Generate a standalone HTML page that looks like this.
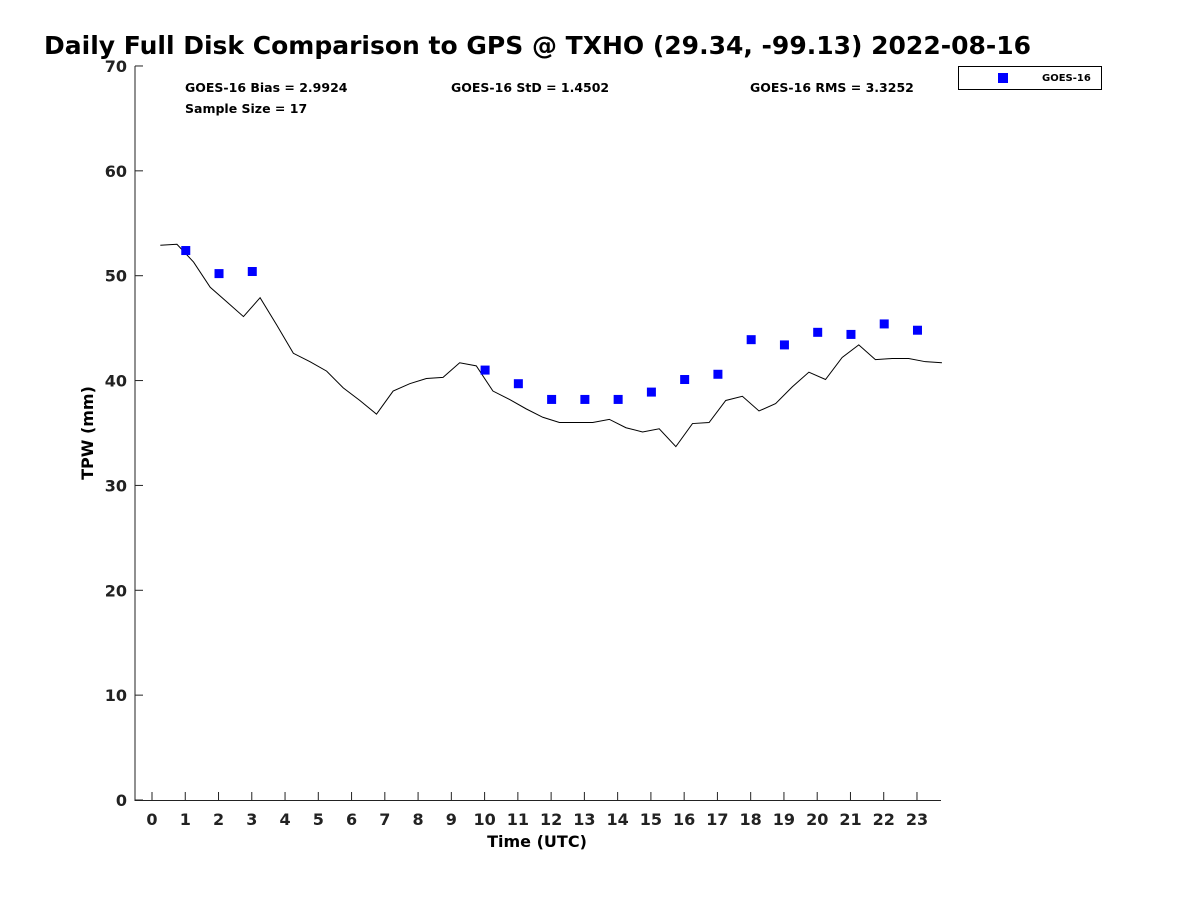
<!DOCTYPE html>
<html><head><meta charset="utf-8"><style>
body{margin:0;background:#fff;}
svg{display:block;font-family:"DejaVu Sans","Liberation Sans",sans-serif;}
</style></head><body>
<svg id="c" width="1200" height="900" xmlns="http://www.w3.org/2000/svg">
<rect width="1200" height="900" fill="#fff"/>
<text x="44" y="54" font-size="25" font-weight="bold" fill="#000">Daily Full Disk Comparison to GPS @ TXHO (29.34, -99.13) 2022-08-16</text>
<g id="axes"></g>
<g id="marks"></g>
<text x="185" y="92" font-size="12.5" font-weight="bold">GOES-16 Bias = 2.9924</text>
<text x="451" y="92" font-size="12.5" font-weight="bold">GOES-16 StD = 1.4502</text>
<text x="750" y="92" font-size="12.5" font-weight="bold">GOES-16 RMS = 3.3252</text>
<text x="185" y="113" font-size="12.5" font-weight="bold">Sample Size = 17</text>
<g>
<rect x="958.5" y="66.5" width="143" height="23" fill="#fff" stroke="#000" stroke-width="1"/>
<rect x="998" y="73" width="10" height="10" fill="#0000ff"/>
<text x="1042" y="81" font-size="10" font-weight="bold">GOES-16</text>
</g>
<text x="537" y="847" font-size="16" font-weight="bold" text-anchor="middle">Time (UTC)</text>
<text transform="translate(93,433) rotate(-90)" font-size="16" font-weight="bold" text-anchor="middle">TPW (mm)</text>
</svg>
<script>
const lineTimes=[0.25,0.75,1.25,1.75,2.25,2.75,3.25,3.75,4.25,4.75,5.25,5.75,6.25,6.75,7.25,7.75,8.25,8.75,9.25,9.75,10.25,10.75,11.25,11.75,12.25,12.75,13.25,13.75,14.25,14.75,15.25,15.75,16.25,16.75,17.25,17.75,18.25,18.75,19.25,19.75,20.25,20.75,21.25,21.75,22.25,22.75,23.25,23.75];
const gpsValues=[52.9,53.0,51.3,48.9,47.5,46.1,47.9,45.3,42.6,41.8,40.9,39.3,38.1,36.8,39.0,39.7,40.2,40.3,41.7,41.4,39.0,38.2,37.3,36.5,36.0,36.0,36.0,36.3,35.5,35.1,35.4,33.7,35.9,36.0,38.1,38.5,37.1,37.8,39.4,40.8,40.1,42.2,43.4,42.0,42.1,42.1,41.8,41.7];
const goesHours=[1,2,3,10,11,12,13,14,15,16,17,18,19,20,21,22,23];
const goesValues=[52.4,50.2,50.4,41.0,39.7,38.2,38.2,38.2,38.9,40.1,40.6,43.9,43.4,44.6,44.4,45.4,44.8];
const xTicks=[0,1,2,3,4,5,6,7,8,9,10,11,12,13,14,15,16,17,18,19,20,21,22,23];
const yTicks=[0,10,20,30,40,50,60,70];
const NS="http://www.w3.org/2000/svg";
const X0=152,XS=33.26,Y0=800,YS=10.486,L=135,R=941,T=66;
const sx=t=>X0+t*XS, sy=v=>Y0-v*YS;
function mk(tag,at,parent){const e=document.createElementNS(NS,tag);for(const k in at)e.setAttribute(k,at[k]);parent.appendChild(e);return e;}
const axes=document.getElementById('axes'),marks=document.getElementById('marks');
let e=mk('path',{d:`M${L} ${T}V${Y0+0.5}H${R}`,fill:'none',stroke:'#222','stroke-width':1},axes);


yTicks.forEach(v=>{
 let t=mk('line',{x1:L,x2:L+8,y1:sy(v),y2:sy(v),stroke:'#222'},axes);
 
 
 let l=mk('text',{x:L-8,y:sy(v)+6,'font-size':16,'font-weight':'bold','text-anchor':'end',fill:'#222'},axes);
 l.textContent=v;
 
 
});
xTicks.forEach(h=>{
 let t=mk('line',{x1:sx(h),x2:sx(h),y1:Y0,y2:Y0-8,stroke:'#222'},axes);
 
 
 let l=mk('text',{x:sx(h),y:Y0+25,'font-size':16,'font-weight':'bold','text-anchor':'middle',fill:'#222'},axes);
 l.textContent=h;
 
 
});
let p=mk('polyline',{points:lineTimes.map((t,i)=>sx(t)+','+sy(gpsValues[i])).join(' '),fill:'none',stroke:'#000','stroke-width':1},marks);


goesHours.forEach((h,i)=>{
 let r=mk('rect',{x:sx(h)-4,y:sy(goesValues[i])-4.5,width:9,height:9,fill:'#0000ff'},marks);
 
 
});
</script>
</body></html>
